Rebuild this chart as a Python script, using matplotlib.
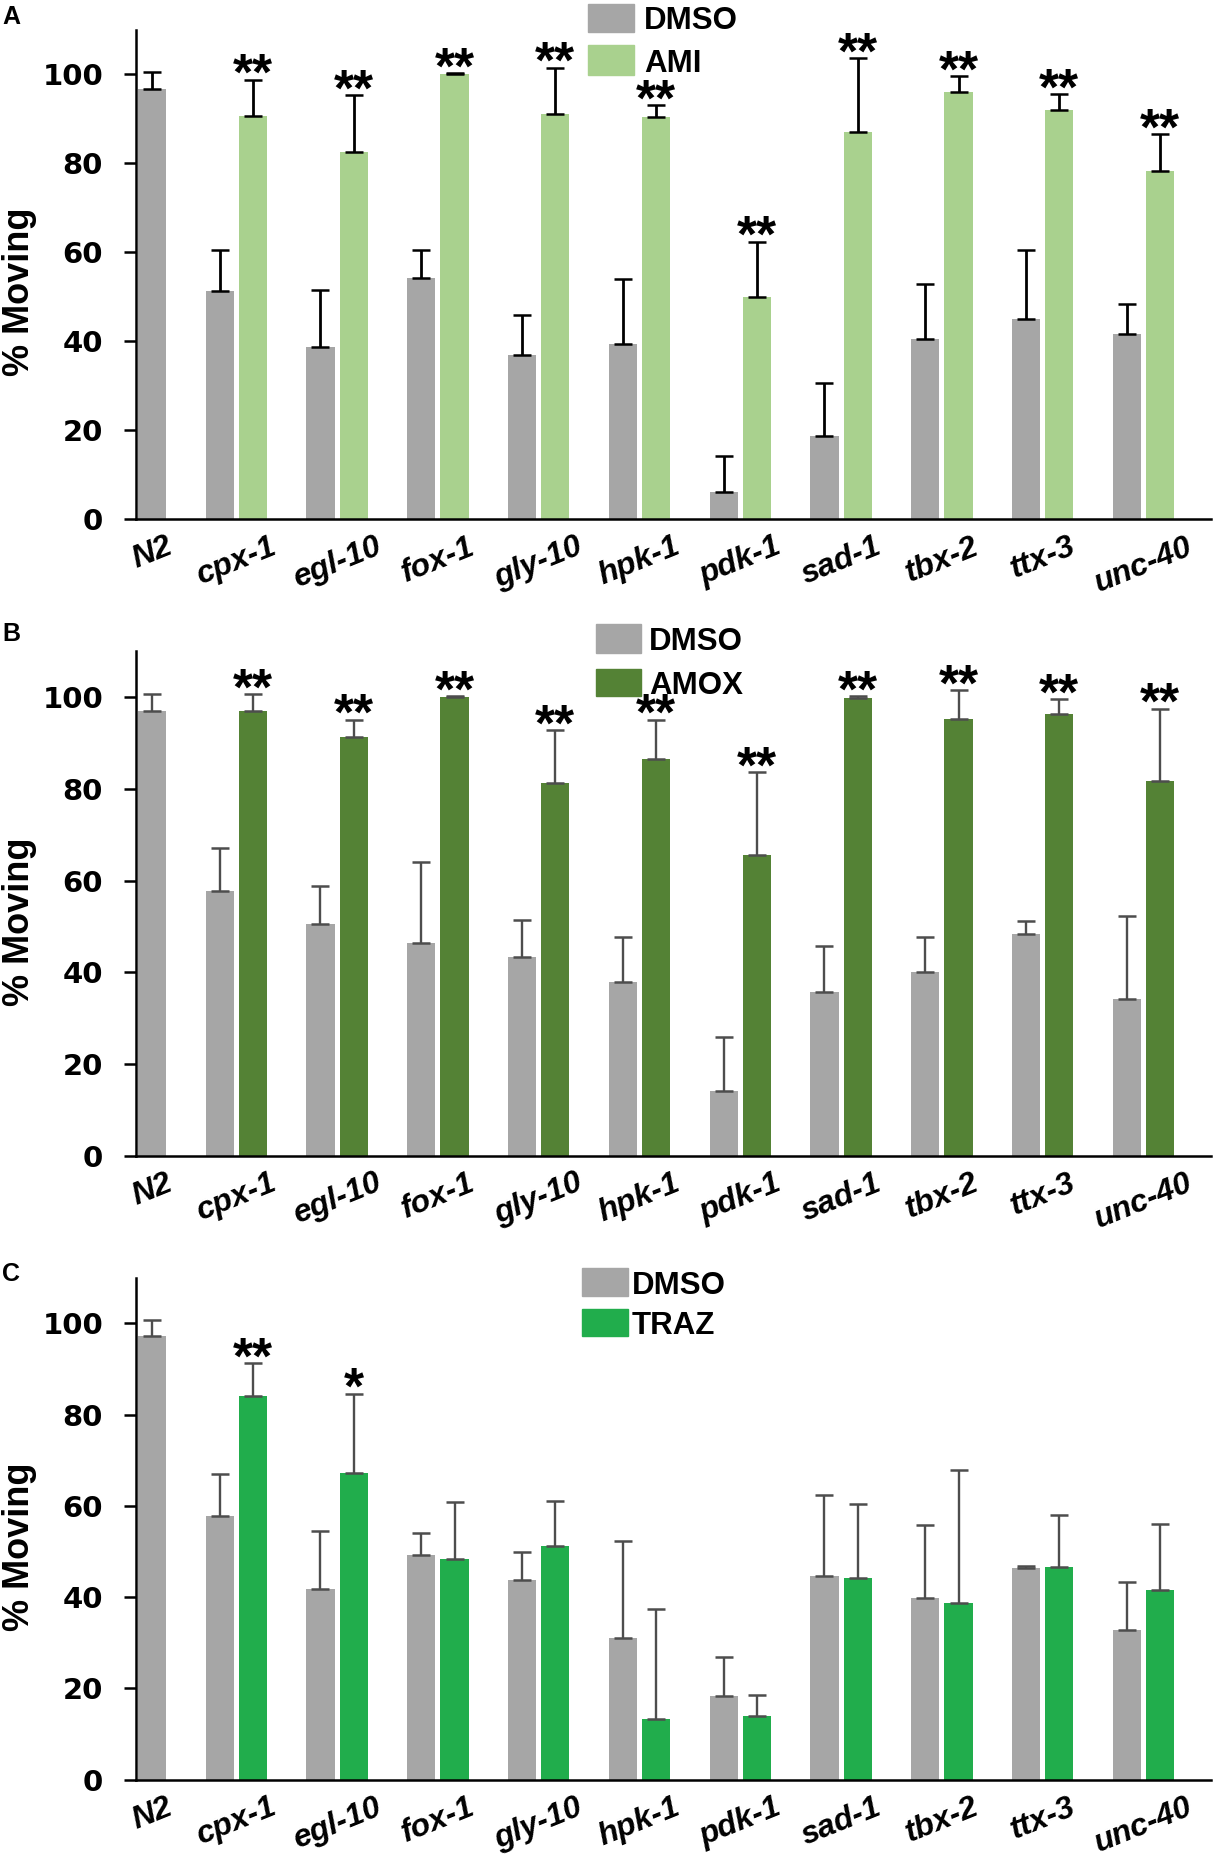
import matplotlib
matplotlib.use('Agg')
import matplotlib.pyplot as plt
from matplotlib.patches import Rectangle
import numpy as np

plt.rcParams['font.family'] = 'Liberation Sans'
plt.rcParams['font.weight'] = 'bold'
plt.rcParams['axes.labelweight'] = 'bold'

strains = ['N2', 'cpx-1', 'egl-10', 'fox-1', 'gly-10', 'hpk-1',
           'pdk-1', 'sad-1', 'tbx-2', 'ttx-3', 'unc-40']

# Panel A - DMSO vs AMI (drug values are for the 10 mutants, no N2)
dmso_a = [96.7, 51.2, 38.7, 54.3, 36.8, 39.3, 6.2, 18.6, 40.4, 45.1, 41.6]
dmso_a_err = [3.7, 9.3, 12.9, 6.2, 9.0, 14.7, 8.0, 12.0, 12.5, 15.4, 6.8]
ami = [90.7, 82.5, 100.0, 91.0, 90.3, 49.9, 86.9, 96.1, 91.9, 78.2]
ami_err = [8.1, 12.8, 0.3, 10.5, 2.7, 12.5, 16.7, 3.4, 3.7, 8.4]
ami_stars = ['**'] * 10

# Panel B - DMSO vs AMOX
dmso_b = [97.0, 57.8, 50.6, 46.3, 43.4, 37.8, 14.0, 35.7, 40.1, 48.3, 34.2]
dmso_b_err = [3.7, 9.4, 8.2, 17.8, 8.1, 10.0, 11.9, 10.1, 7.7, 2.8, 18.0]
amox = [97.0, 91.4, 100.0, 81.2, 86.5, 65.6, 99.9, 95.3, 96.4, 81.7]
amox_err = [3.7, 3.7, 0.2, 11.6, 8.6, 18.0, 0.3, 6.2, 3.2, 15.8]
amox_stars = ['**'] * 10

# Panel C - DMSO vs TRAZ
dmso_c = [97.1, 57.8, 41.8, 49.2, 43.7, 31.0, 18.4, 44.7, 39.9, 46.3, 32.9]
dmso_c_err = [3.7, 9.2, 12.7, 4.9, 6.2, 21.2, 8.5, 17.6, 15.9, 0.5, 10.5]
traz = [84.1, 67.2, 48.3, 51.2, 13.4, 13.9, 44.1, 38.8, 46.7, 41.6]
traz_err = [7.2, 17.4, 12.6, 9.9, 24.1, 4.6, 16.4, 29.1, 11.2, 14.4]
traz_stars = ['**', '*', '', '', '', '', '', '', '', '']

W, H = 1214, 1866
GRAY = '#a6a6a6'


def px_rect(left, top, right, bottom):
    return [left / W, 1 - bottom / H, (right - left) / W, (bottom - top) / H]


panels = [
    dict(letter='A', letter_y=5, rect=px_rect(135.5, 29.7, 1211, 519.2),
         dmso=dmso_a, dmso_err=dmso_a_err, drug=ami, drug_err=ami_err,
         stars=ami_stars, name='AMI', color='#a9d18e', ecolor='black', elw=2.0,
         leg_x=(588, 634), leg_y=[(4, 31.6), (45.5, 75.1)], leg_tx=644),
    dict(letter='B', letter_y=622, rect=px_rect(135.5, 651.4, 1211, 1155.6),
         dmso=dmso_b, dmso_err=dmso_b_err, drug=amox, drug_err=amox_err,
         stars=amox_stars, name='AMOX', color='#548235', ecolor='#4d4d4d', elw=1.7,
         leg_x=(596, 641), leg_y=[(624.5, 652.6), (669.2, 696.1)], leg_tx=649),
    dict(letter='C', letter_y=1262, rect=px_rect(135.5, 1277.6, 1211, 1779.8),
         dmso=dmso_c, dmso_err=dmso_c_err, drug=traz, drug_err=traz_err,
         stars=traz_stars, name='TRAZ', color='#21ad4c', ecolor='#4d4d4d', elw=1.7,
         leg_x=(582, 628), leg_y=[(1268, 1296), (1309, 1336)], leg_tx=632),
]

fig = plt.figure(figsize=(W / 100, H / 100), dpi=100)

x = np.arange(len(strains))
off = 0.165
bw = 0.28
dmso_x = np.where(x == 0, x + off, x - off)
drug_x = x[1:] + off
tick_x = np.where(x == 0, x + off, x)

for p in panels:
    ax = fig.add_axes(p['rect'])
    ekw = dict(ecolor=p['ecolor'], elinewidth=p['elw'], capsize=6.5, capthick=1.8)
    ax.bar(dmso_x, p['dmso'], bw, color=GRAY,
           yerr=[np.zeros(len(x)), p['dmso_err']], error_kw=ekw)
    ax.bar(drug_x, p['drug'], bw, color=p['color'],
           yerr=[np.zeros(len(drug_x)), p['drug_err']], error_kw=ekw)

    for xi, m, e, s in zip(drug_x, p['drug'], p['drug_err'], p['stars']):
        if s:
            ax.annotate(s, (xi, m + e), xytext=(0, -7.5), textcoords='offset points',
                        ha='center', va='baseline', fontsize=37, fontweight='bold')

    ax.set_xlim(0, 10.67)
    ax.set_ylim(0, 110)
    ax.set_yticks(range(0, 101, 20))
    ax.set_yticklabels([str(v) for v in range(0, 101, 20)],
                       family='DejaVu Sans', fontweight='bold', fontsize=21)
    ax.set_xticks(tick_x)
    ax.set_xticklabels(strains, rotation=22, ha='center', style='italic',
                       fontweight='bold', fontsize=23)
    ax.tick_params(axis='x', length=0, pad=9)
    ax.tick_params(axis='y', length=8.4, width=1.8, pad=15)
    for side in ['top', 'right']:
        ax.spines[side].set_visible(False)
    for side in ['left', 'bottom']:
        ax.spines[side].set_linewidth(1.8)
    ax.set_ylabel('% Moving', fontsize=26, fontweight='bold', va='center')
    ax.yaxis.set_label_coords(-0.108, 0.464)

    # legend drawn as boxes + text in pixel positions
    for (top, bottom), lab, col in zip(p['leg_y'], ['DMSO', p['name']], [GRAY, p['color']]):
        x0, x1 = p['leg_x']
        fig.patches.append(Rectangle((x0 / W, 1 - bottom / H), (x1 - x0) / W,
                                     (bottom - top) / H, transform=fig.transFigure,
                                     color=col))
        fig.text(p['leg_tx'] / W, 1 - (top + bottom) / 2 / H, lab,
                 va='center_baseline', ha='left', fontsize=22.5, fontweight='bold')

    fig.text(2 / W, 1 - p['letter_y'] / H, p['letter'], va='top', ha='left',
             fontsize=18, fontweight='bold')

fig.savefig('out.png', dpi=100)
